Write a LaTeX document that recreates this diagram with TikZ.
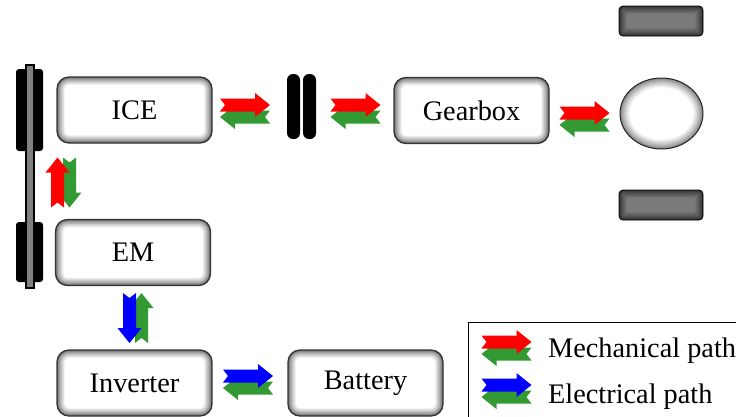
\documentclass[tikz,border=0pt]{standalone}
\usepackage{fontspec}
\setmainfont{Liberation Serif}
\newfontfamily\lserif{Liberation Serif}
\usetikzlibrary{shapes.geometric,backgrounds,calc}
\definecolor{grn}{RGB}{51,153,51}
\definecolor{myred}{RGB}{255,0,0}
\definecolor{myblue}{RGB}{0,0,255}
\colorlet{boxedge}{black!58}
\colorlet{wheeledge}{black!82}
\colorlet{wheelmid}{black!52}
\colorlet{diffedge}{black!50}
\newcommand\rnotch[2]{\fill[#1] (-25,{#2-6.5}) -- (10,{#2-6.5}) -- (10,{#2-12}) -- (25,{#2}) -- (10,{#2+12}) -- (10,{#2+6.5}) -- (-25,{#2+6.5}) -- (-20,{#2}) -- cycle;}
\newcommand\lnotch[2]{\fill[#1] (25,{#2-6.5}) -- (-10,{#2-6.5}) -- (-10,{#2-12}) -- (-25,{#2}) -- (-10,{#2+12}) -- (-10,{#2+6.5}) -- (25,{#2+6.5}) -- (20,{#2}) -- cycle;}
\tikzset{
  glow/.style n args={3}{path picture={
    \foreach \i in {0,...,10}{
      \pgfmathsetmacro\p{100*(\i/10)^0.8}
      \pgfmathsetmacro\r{max(#3-\i*0.8,1.5)}
      \fill[#2!\p!#1, rounded corners=\r pt]
        ([xshift=\i*0.8pt, yshift=\i*0.8pt]path picture bounding box.south west)
        rectangle ([xshift=-\i*0.8pt, yshift=-\i*0.8pt]path picture bounding box.north east);
    }}},
  ellglow/.style={path picture={
    \foreach \i in {0,...,12}{
      \pgfmathsetmacro\p{100*(\i/12)^0.8}
      \fill[white!\p!diffedge] (path picture bounding box.center) ellipse [x radius=41.5pt-\i*0.8pt, y radius=35.5pt-\i*0.8pt];
    }}},
  blockbox/.style={draw=black!80, line width=1.3pt, rounded corners=12pt,
    minimum width=155pt, minimum height=66pt, inner sep=0pt,
    glow={boxedge}{white}{12},
    font=\lserif\fontsize{28.3}{31}\selectfont},
  wheel/.style={draw=black, line width=0.8pt, rounded corners=4pt,
    minimum width=84pt, minimum height=30pt, inner sep=0pt,
    glow={wheeledge}{wheelmid}{4}},
  plate/.style={fill=black, rounded corners=6pt, minimum width=13pt, minimum height=65pt, inner sep=0pt},
  legtext/.style={anchor=base west, inner sep=0pt, font=\lserif\fontsize{28.3}{31}\selectfont},
  pics/dbl/.style 2 args={code={\lnotch{grn}{6*#2}\rnotch{#1}{-6*#2}}}
}
\begin{document}
\begin{tikzpicture}[x=1pt,y=-1pt]
\clip (0,0) rectangle (736,416);
\fill[white] (0,0) rectangle (736,416);
% blocks
\node[blockbox] (ice) at (134.5,110) {ICE};
\node[blockbox] (em) at (133,252.5) {EM};
\node[blockbox] (inv) at (134.5,383) {Inverter};
\node[blockbox] (bat) at (365.5,383) {Battery};
\node[blockbox] (gear) at (471.5,110.5) {Gearbox};
% clutch
\node[plate] (cl1) at (293.5,106.5) {};
\node[plate] (cl2) at (309.5,106.5) {};
% wheels and differential
\node[wheel] (wt) at (661,21) {};
\node[wheel] (wb) at (661,205) {};
\node[ellipse, draw=black!85, line width=1pt, ellglow, minimum width=83pt, minimum height=71pt, inner sep=0pt] (diff) at (661.5,113.5) {};
\begin{scope}[on background layer]
  \draw[line width=8pt] (wt.center) -- (diff.center) -- (wb.center);
\end{scope}
% shaft with flywheels
\fill[black, rounded corners=3pt] (16,69) rectangle (43,151);
\fill[black, rounded corners=3pt] (16,222) rectangle (43,282);
\draw[fill=black!50, line width=1.3pt] (26,65) rectangle (34,288);
% power flow arrows
\pic at (245,111) {dbl={myred}{1}};
\pic at (355.5,111) {dbl={myred}{1}};
\pic at (584.5,119) {dbl={myred}{1}};
\pic[rotate=90] at (63.5,182.5) {dbl={myred}{1}};
\pic[rotate=-90] at (135.5,318) {dbl={myblue}{-1}};
\pic at (248,382) {dbl={myblue}{1}};
% legend
\node[draw=black, line width=1.3pt, minimum width=300pt, minimum height=110pt, anchor=north west, inner sep=0pt] (leg) at (468,322) {};
\pic at (506.5,348) {dbl={myred}{1}};
\pic at (506.5,391) {dbl={myblue}{1}};
\node[legtext] (mt) at (548,357) {Mechanical path};
\node[legtext] (et) at (548,403) {Electrical path};
\end{tikzpicture}
\end{document}
